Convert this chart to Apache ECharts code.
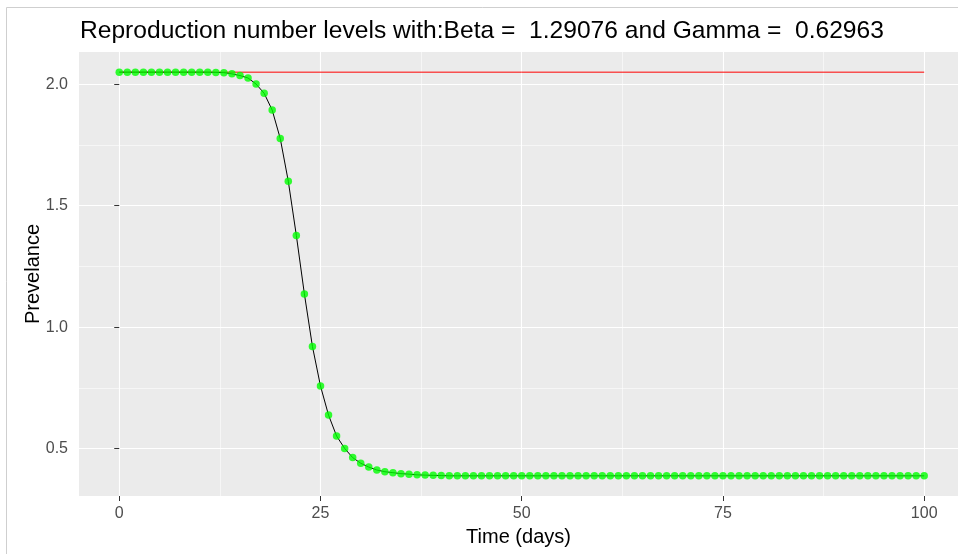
<!DOCTYPE html>
<html>
<head>
<meta charset="utf-8">
<script src="https://cdn.jsdelivr.net/npm/echarts@6/dist/echarts.min.js"></script>
<style>
html,body{margin:0;padding:0;background:#fff;}
#c{width:958px;height:554px;}
</style>
</head>
<body>
<div id="c"></div>
<script>
// ---- data ----
const titleText = 'Reproduction number levels with:Beta =  1.29076 and Gamma =  0.62963';
const xTitle = 'Time (days)';
const yTitle = 'Prevelance';
const days = [0,1,2,3,4,5,6,7,8,9,10,11,12,13,14,15,16,17,18,19,20,21,22,23,24,25,26,27,28,29,30,31,32,33,34,35,36,37,38,39,40,41,42,43,44,45,46,47,48,49,50,51,52,53,54,55,56,57,58,59,60,61,62,63,64,65,66,67,68,69,70,71,72,73,74,75,76,77,78,79,80,81,82,83,84,85,86,87,88,89,90,91,92,93,94,95,96,97,98,99,100];
const reproduction = [
  2.050,2.050,2.050,2.050,2.050,2.050,2.050,2.050,2.050,2.050,2.050,2.050,2.049,2.048,
  2.043,2.036,2.026,2.001,1.963,1.894,1.777,1.601,1.378,1.137,0.921,0.758,0.638,0.552,0.501,0.463,0.440,0.424,0.412,0.405,0.401,0.397,0.395,0.392,0.391,0.390,0.389,
  0.388,0.388,0.388,0.388,0.388,0.388,0.388,0.388,0.388,0.388,
  0.388,0.388,0.388,0.388,0.388,0.388,0.388,0.388,0.388,0.388,
  0.388,0.388,0.388,0.388,0.388,0.388,0.388,0.388,0.388,0.388,
  0.388,0.388,0.388,0.388,0.388,0.388,0.388,0.388,0.388,0.388,
  0.388,0.388,0.388,0.388,0.388,0.388,0.388,0.388,0.388,0.388,
  0.388,0.388,0.388,0.388,0.388,0.388,0.388,0.388,0.388,0.388
];
const refDays = [0, 100];
const refValues = [2.05, 2.05];
const xMajor = [0, 25, 50, 75, 100];
const xMinor = [12.5, 37.5, 62.5, 87.5];
const yMajor = [0.5, 1.0, 1.5, 2.0];
const yMinor = [0.75, 1.25, 1.75];

// ---- chart ----
const FONT = 'Liberation Sans, Arial, sans-serif';
const chart = echarts.init(document.getElementById('c'), null, {renderer: 'canvas'});
const pts = days.map((d, i) => [d, reproduction[i]]);
const refPts = refDays.map((d, i) => [d, refValues[i]]);

const X_MIN = -5, X_MAX = 104.2, Y_MIN = 0.305, Y_MAX = 2.133;

function majorAxis(vals, isX) {
  return {
    type: 'value', gridIndex: 0, min: isX ? X_MIN : Y_MIN, max: isX ? X_MAX : Y_MAX,
    position: isX ? 'bottom' : 'left',
    axisLine: {show: false},
    axisTick: {show: true, customValues: vals, length: 5, lineStyle: {color: '#333333', width: 1}},
    axisLabel: {show: true, customValues: vals, color: '#4D4D4D', fontSize: 16, fontFamily: FONT,
      margin: isX ? 10 : 11,
      formatter: v => isX ? String(v) : v.toFixed(1)},
    splitLine: {show: true, lineStyle: {color: '#FFFFFF', width: 1.1}},
    name: isX ? xTitle : yTitle,
    nameLocation: 'middle',
    nameGap: isX ? 31 : 36,
    nameMoveOverlap: false,
    nameTextStyle: {color: '#000', fontSize: 20, fontFamily: FONT}
  };
}
function minorAxis(vals, isX) {
  return {
    type: 'value', gridIndex: 0, min: isX ? X_MIN : Y_MIN, max: isX ? X_MAX : Y_MAX,
    position: isX ? 'bottom' : 'left',
    axisLine: {show: false},
    axisTick: {show: false, customValues: vals},
    axisLabel: {show: false, customValues: vals},
    splitLine: {show: true, lineStyle: {color: '#FFFFFF', width: 0.55}}
  };
}

chart.setOption({
  animation: false,
  backgroundColor: '#FFFFFF',
  graphic: [{
    type: 'rect', shape: {x: 6.5, y: 7.5, width: 1000, height: 600},
    style: {fill: null, stroke: '#CFCFCF', lineWidth: 1}, silent: true, z: -10
  }],
  title: {
    text: titleText, left: 75, top: 14,
    textStyle: {fontFamily: FONT, fontSize: 24.6, fontWeight: 'normal', color: '#000'}
  },
  grid: {left: 79, top: 52, width: 879, height: 444, show: true, backgroundColor: '#EBEBEB', borderWidth: 0},
  xAxis: [majorAxis(xMajor, true), minorAxis(xMinor, true)],
  yAxis: [majorAxis(yMajor, false), minorAxis(yMinor, false)],
  series: [
    {type: 'line', xAxisIndex: 0, yAxisIndex: 0, data: refPts, showSymbol: false, symbol: 'none',
     lineStyle: {color: '#FF0000', width: 1}, z: 2},
    {type: 'line', xAxisIndex: 0, yAxisIndex: 0, data: pts, showSymbol: false, symbol: 'none',
     lineStyle: {color: '#000000', width: 1}, z: 3},
    {type: 'scatter', xAxisIndex: 0, yAxisIndex: 0, data: pts, symbol: 'circle', symbolSize: 7.5,
     itemStyle: {color: '#00FF00'}, z: 4}
  ]
});
</script>
</body>
</html>
